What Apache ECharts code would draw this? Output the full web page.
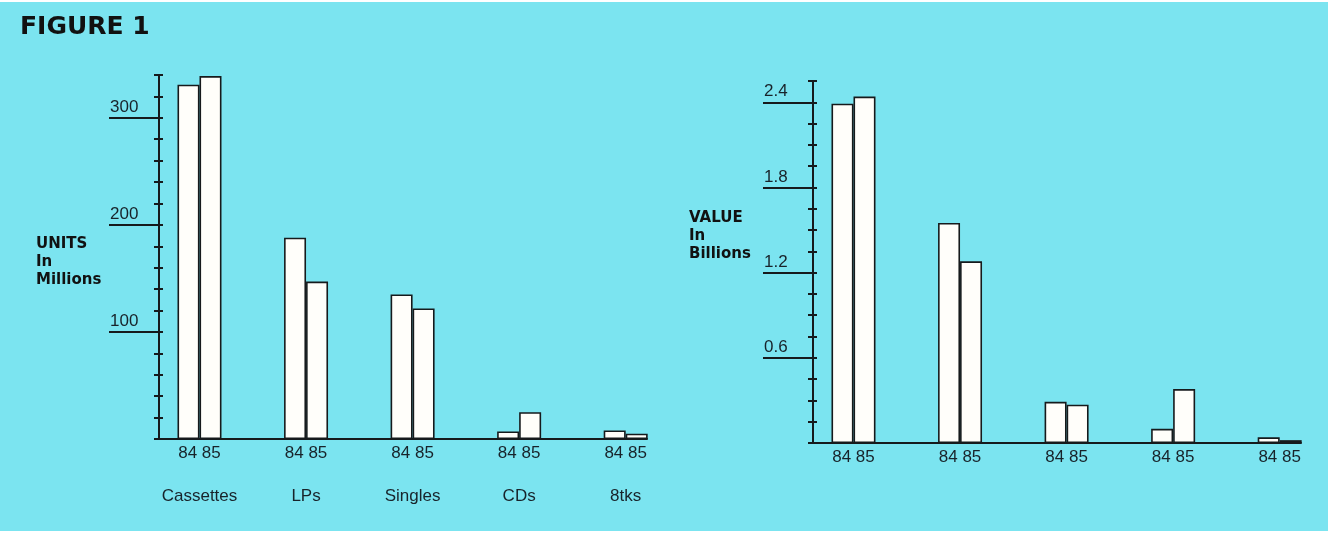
<!DOCTYPE html>
<html>
<head>
<meta charset="utf-8">
<script src="https://cdn.jsdelivr.net/npm/echarts@6/dist/echarts.min.js"></script>
<style>
  html, body { margin: 0; padding: 0; background: #ffffff; }
  #paper { position: absolute; left: 0; top: 2px; width: 1328px; height: 529px; background: #7be4f0; }
  #chart { position: absolute; left: 0; top: 0; width: 1334px; height: 536px; }
</style>
</head>
<body>
<div id="paper"></div>
<div id="chart"></div>
<script>
// Record sales by format, 1984 vs 1985
const categories = ['Cassettes', 'LPs', 'Singles', 'CDs', '8tks'];
const years = ['84', '85'];

// Units shipped, millions
const units84 = [331, 188, 135, 7, 8];
const units85 = [339, 147, 122, 25, 5];

// Dollar value, billions
const value84 = [2.39, 1.55, 0.29, 0.10, 0.04];
const value85 = [2.44, 1.28, 0.27, 0.38, 0.02];

// Labelled ticks on each value axis
const unitTicks = [100, 200, 300];
const valueTicks = [0.6, 1.2, 1.8, 2.4];

const INK = '#161a1c';
const TEXT = '#18232a';
const BAR_FILL = '#fffefa';
const catIdx = categories.map((c, i) => i);

const chart = echarts.init(document.getElementById('chart'), null, { renderer: 'canvas' });

function xAxisFor(gridIndex, withNames) {
  return {
    type: 'value', gridIndex: gridIndex, min: -0.38, max: 4.2, position: 'bottom',
    splitLine: { show: false },
    axisLine: { show: true, onZero: false, lineStyle: { color: INK, width: 2 } },
    axisTick: { show: false },
    axisLabel: {
      customValues: catIdx,
      margin: 5,
      formatter: function (v) {
        const yrs = '{y|' + years.join(' ') + '}';
        return withNames ? yrs + '\n{c|' + categories[v] + '}' : yrs;
      },
      rich: {
        y: { fontFamily: 'Liberation Sans', fontSize: 17, color: TEXT, lineHeight: 19 },
        c: { fontFamily: 'Liberation Sans', fontSize: 17, color: TEXT, lineHeight: 66 }
      }
    }
  };
}

// Three overlaid y axes per grid: the axis line with outer ticks, inner ticks,
// and the long labelled rule lines.
function yAxesFor(gridIndex, max, step, labelled, fmt) {
  const common = {
    type: 'value', gridIndex: gridIndex, position: 'left', offset: 0,
    min: 0, max: max, interval: step, splitLine: { show: false }
  };
  return [
    Object.assign({}, common, {
      axisLine: { show: true, onZero: false, lineStyle: { color: INK, width: 2 } },
      axisTick: { show: true, inside: false, length: 5, lineStyle: { color: INK, width: 2 } },
      axisLabel: { show: false }
    }),
    Object.assign({}, common, {
      axisLine: { show: false, onZero: false },
      axisTick: { show: true, inside: true, length: 4, lineStyle: { color: INK, width: 2 } },
      axisLabel: { show: false }
    }),
    Object.assign({}, common, {
      axisLine: { show: false, onZero: false },
      axisTick: { show: true, inside: false, length: 50, customValues: labelled, lineStyle: { color: INK, width: 2 } },
      axisLabel: {
        show: true, customValues: labelled, margin: 49, align: 'left', verticalAlign: 'bottom',
        padding: [0, 0, 2, 0], lineHeight: 17,
        fontFamily: 'Liberation Sans', fontSize: 17, color: TEXT,
        formatter: fmt
      }
    })
  ];
}

function barSeries(name, xi, yi, values) {
  return {
    type: 'bar', name: name, xAxisIndex: xi, yAxisIndex: yi,
    data: values.map((v, i) => [i, v]),
    barWidth: 22, barGap: '0%',
    itemStyle: { color: BAR_FILL, borderColor: INK, borderWidth: 1.6 },
    emphasis: { disabled: true }
  };
}

const boldTitle = { fontFamily: 'DejaVu Sans', fontWeight: 'bold', color: '#111111' };

chart.setOption({
  backgroundColor: 'transparent',
  animation: false,
  title: [
    { text: 'FIGURE 1', left: 15, top: 10, textStyle: Object.assign({ fontSize: 25 }, boldTitle) },
    { text: 'UNITS\nIn\nMillions', left: 31, top: 230, textStyle: Object.assign({ fontSize: 15, lineHeight: 18 }, boldTitle) },
    { text: 'VALUE\nIn\nBillions', left: 684, top: 204, textStyle: Object.assign({ fontSize: 15, lineHeight: 18 }, boldTitle) }
  ],
  grid: [
    { left: 159, right: 687, top: 75, bottom: 97, outerBoundsMode: 'none' },
    { left: 813, right: 33, top: 81, bottom: 93, outerBoundsMode: 'none' }
  ],
  xAxis: [xAxisFor(0, true), xAxisFor(1, false)],
  yAxis: []
    .concat(yAxesFor(0, 340, 20, unitTicks, v => String(v)))
    .concat(yAxesFor(1, 2.55, 0.15, valueTicks, v => v.toFixed(1))),
  series: [
    barSeries('84', 0, 0, units84),
    barSeries('85', 0, 0, units85),
    barSeries('84', 1, 3, value84),
    barSeries('85', 1, 3, value85)
  ]
});
</script>
</body>
</html>
